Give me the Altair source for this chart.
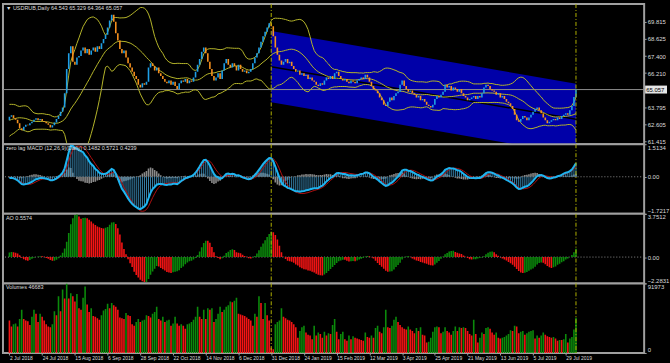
import altair as alt
import pandas as pd
import numpy as np

# ---------------- data ----------------
# daily closes before 2 Jul 2018, only used to warm up the indicators (not drawn)
warmup_closes = [61.60, 61.80, 62.00, 61.90, 62.20, 62.40, 62.30, 62.10, 61.90, 62.00,
                 62.30, 62.50, 62.40, 62.20, 62.00, 62.10, 62.30, 62.20, 62.00, 62.10,
                 62.40, 62.80, 63.10, 63.50, 63.80, 63.90, 63.60, 63.30, 63.10, 62.90,
                 62.80, 63.00, 63.10, 62.90]

closes = [
    63.15, 63.25, 63.05, 62.95, 62.70, 62.35, 62.20, 62.45, 62.60, 62.55,
    62.70, 62.80, 62.95, 63.05, 62.90, 63.00, 62.85, 62.80, 62.70, 62.60,
    62.40, 62.55, 62.75, 63.00, 63.20, 63.50, 63.80, 64.80, 66.50, 67.60,
    68.10, 67.00, 66.80, 67.30, 67.40, 67.80, 68.00, 67.60, 67.90, 67.50,
    67.80, 68.00, 67.70, 68.10, 67.90, 68.30, 68.60, 68.90, 69.40, 69.90,
    70.30, 69.80, 69.00, 68.50, 67.90, 67.60, 67.80, 67.30, 66.90, 66.60,
    66.30, 66.00, 65.80, 65.40, 65.20, 65.50, 65.40, 65.60, 66.60, 66.90,
    66.70, 66.40, 66.60, 66.20, 66.00, 65.80, 65.60, 65.50, 65.70, 65.40,
    65.60, 65.30, 65.10, 65.50, 65.70, 65.60, 65.80, 65.50, 65.70, 65.60,
    65.90, 66.30, 66.80, 67.20, 67.70, 68.00, 67.60, 67.00, 66.50, 66.00,
    65.70, 65.90, 66.20, 65.80, 66.40, 66.90, 67.20, 66.80, 66.60, 66.90,
    66.70, 66.40, 66.80, 66.50, 66.30, 66.40, 66.20, 66.30, 66.50, 66.90,
    67.30, 67.60, 68.00, 68.40, 68.80, 69.10, 69.40, 69.70, 69.50, 68.80,
    68.00, 67.50, 67.10, 66.80, 67.00, 67.20, 66.90, 67.00, 66.70, 66.50,
    66.30, 66.40, 66.10, 66.20, 66.00, 66.10, 65.80, 65.90, 65.70, 65.60,
    65.40, 65.30, 65.50, 65.40, 65.70, 65.90, 65.80, 66.00, 65.80, 66.20,
    66.30, 66.00, 65.80, 65.70, 65.80, 65.60, 65.50, 65.70, 65.60, 65.50,
    65.70, 65.80, 65.90, 65.80, 66.10, 65.90, 65.60, 65.30, 65.10, 65.00,
    64.80, 64.50, 64.30, 64.00, 63.90, 64.20, 64.50, 64.30, 64.60, 64.80,
    64.90, 65.40, 65.70, 65.30, 65.10, 64.90, 65.00, 64.80, 64.70, 64.50,
    64.60, 64.30, 64.40, 64.20, 64.00, 63.90, 63.80, 64.00, 64.40, 64.60,
    64.50, 64.70, 64.90, 65.40, 65.20, 65.30, 65.00, 65.20, 65.10, 64.90,
    65.10, 64.80, 64.60, 64.50, 64.30, 64.40, 64.50, 64.60, 64.40, 64.60,
    64.50, 64.80, 65.20, 65.40, 65.30, 65.10, 65.00, 64.90, 64.70, 64.80,
    64.50, 64.60, 64.40, 64.20, 64.10, 63.90, 63.70, 63.30, 62.90, 62.80,
    63.00, 63.20, 63.10, 62.90, 63.10, 63.30, 63.50, 63.70, 63.80, 63.60,
    63.40, 63.10, 62.90, 62.70, 62.80, 62.90, 63.00, 62.90, 63.10, 63.00,
    63.20, 63.30, 63.40, 63.30, 63.60, 63.90, 64.543, 65.057]

volumes = [
    43000, 35000, 38000, 39000, 35000, 45000, 57000, 45000, 43000, 42000,
    37000, 48000, 57000, 52000, 41000, 52000, 48000, 43000, 38000, 35000,
    34000, 38000, 55000, 50000, 75000, 55000, 84000, 72000, 91973, 72000,
    79000, 75000, 68000, 78000, 59000, 57000, 73000, 88000, 64000, 54000,
    59000, 49000, 48000, 46000, 44000, 50000, 56000, 58000, 65000, 59000,
    66000, 63000, 61000, 57000, 47000, 46000, 45000, 53000, 50000, 49000,
    38000, 36000, 41000, 45000, 41000, 43000, 44000, 50000, 49000, 47000,
    52000, 54000, 61000, 45000, 43000, 48000, 41000, 43000, 44000, 36000,
    39000, 48000, 39000, 36000, 38000, 36000, 32000, 38000, 39000, 41000,
    44000, 48000, 61000, 48000, 45000, 57000, 45000, 59000, 57000, 59000,
    41000, 45000, 52000, 61000, 54000, 57000, 61000, 63000, 68000, 67000,
    69000, 73000, 52000, 51000, 50000, 49000, 47000, 45000, 43000, 36000,
    52000, 48000, 75000, 66000, 45000, 66000, 50000, 43000, 7000, 5000,
    38000, 41000, 43000, 59000, 48000, 46000, 44000, 43000, 41000, 38000,
    34000, 20000, 29000, 34000, 36000, 27000, 24000, 23000, 18000, 36000,
    23000, 27000, 25000, 20000, 28000, 23000, 26000, 25000, 37000, 45000,
    28000, 18000, 25000, 28000, 18000, 16000, 23000, 18000, 22000, 20000,
    19000, 18000, 17000, 16000, 27000, 21000, 20000, 23000, 20000, 33000,
    36000, 28000, 26000, 34000, 57000, 34000, 33000, 36000, 44000, 48000,
    41000, 37000, 34000, 32000, 31000, 35000, 31000, 29000, 26000, 33000,
    29000, 34000, 24000, 23000, 14000, 15000, 20000, 28000, 34000, 35000,
    34000, 26000, 28000, 34000, 29000, 27000, 24000, 29000, 35000, 29000,
    34000, 33000, 34000, 33000, 29000, 25000, 23000, 44000, 25000, 14000,
    20000, 27000, 25000, 33000, 34000, 32000, 27000, 24000, 27000, 20000,
    19000, 20000, 21000, 23000, 25000, 30000, 29000, 36000, 35000, 26000,
    28000, 29000, 24000, 26000, 28000, 29000, 30000, 19000, 23000, 20000,
    23000, 27000, 24000, 22000, 21000, 20000, 21000, 19000, 16000, 17000,
    17000, 18000, 25000, 14000, 19000, 21000, 31000, 46683]

last_ohlc = [64.543, 65.329, 64.364, 65.057]
date_label_bars = [0, 16, 32, 48, 64, 80, 96, 112, 128, 144, 160, 176, 192, 208, 224, 240, 256, 272]
date_labels = ["2 Jul 2018", "24 Jul 2018", "15 Aug 2018", "6 Sep 2018", "28 Sep 2018",
               "22 Oct 2018", "14 Nov 2018", "6 Dec 2018", "31 Dec 2018", "24 Jan 2019",
               "15 Feb 2019", "12 Mar 2019", "3 Apr 2019", "25 Apr 2019", "21 May 2019",
               "13 Jun 2019", "5 Jul 2019", "29 Jul 2019"]
price_ticks = [69.815, 68.625, 67.400, 66.210, 63.795, 62.605, 61.415]
current_price = [65.057]
channel_bars = [128, 277]
channel_mid = [66.66, 62.97]
channel_half = [2.5, 2.5]
marker_bars = [128, 277]
price_range = [61.227, 71.048]
macd_range = [-1.7217, 1.5134]
ao_range = [-2.2831, 3.7512]
vol_range = [0, 91973]

title_main = "\u25bc USDRUB,Daily  64.543 65.329 64.364 65.057"
title_macd = "zero lag MACD (12,26,9)(Daily) 0.1482 0.5721 0.4239"
title_ao = "AO 0.5574"
title_vol = "Volumes 46683"

# ---------------- indicators ----------------
n = len(closes)
w = len(warmup_closes)
allc = pd.Series(warmup_closes + closes, dtype=float)
opens = allc.shift(1)
bb_mid = allc.rolling(20).mean()
bb_sd = allc.rolling(20).std(ddof=0)


def zlema(s, p):
    e1 = s.ewm(span=p, adjust=False).mean()
    e2 = e1.ewm(span=p, adjust=False).mean()
    return 2 * e1 - e2


macd = zlema(allc, 12) - zlema(allc, 26)
sig = zlema(macd, 9)
ao = allc.rolling(5).mean() - allc.rolling(34).mean()

BULL, BEAR = "#1e9fe6", "#f5901e"
GREEN, RED = "#0b8a0b", "#f31414"

df = pd.DataFrame({
    "bar": np.arange(n),
    "open": opens.iloc[w:].values,
    "close": closes,
    "bb_up": (bb_mid + 2 * bb_sd).iloc[w:].values,
    "bb_mid": bb_mid.iloc[w:].values,
    "bb_lo": (bb_mid - 2 * bb_sd).iloc[w:].values,
    "macd": macd.iloc[w:].values,
    "sig": sig.iloc[w:].values,
    "hist": (macd - sig).iloc[w:].values,
    "ao": ao.iloc[w:].values,
    "vol": volumes,
})
df.loc[n - 1, "open"] = last_ohlc[0]
df["zero"] = 0.0
df["ccol"] = np.where(df["close"] >= df["open"], BULL, BEAR)
ao_prev = ao.iloc[w - 1:-1].values
df["aocol"] = np.where(df["ao"].values > ao_prev, GREEN, RED)
vprev = np.array([volumes[0] + 1] + volumes[:-1])
df["vcol"] = np.where(np.array(volumes) > vprev, GREEN, RED)

chan_df = pd.DataFrame({"bar": channel_bars, "mid": channel_mid,
                        "lo": np.array(channel_mid) - np.array(channel_half),
                        "hi": np.array(channel_mid) + np.array(channel_half)})
mk_df = pd.DataFrame({"b": marker_bars})
one = pd.DataFrame({"k": [0]})
cur_df = pd.DataFrame({"p": current_price})
zero_df = pd.DataFrame({"z": [0.0]})

# ---------------- styling ----------------
W = 645
FONT = "Liberation Sans"
TXT = "#dcdcdc"
AXC = "#a0a0a0"
CHAN = "#0000a8"
BAND = "#b4b42a"
VLINE = "#b0b000"

xscale = alt.Scale(domain=[-0.72, 307.9], nice=False, zero=False)


def xq(field="bar", axis=None):
    return alt.X(f"{field}:Q", scale=xscale, axis=axis, title=None)


def yaxis(values, fmt=None, expr=None, flush=False):
    kw = dict(orient="right", values=values, labelColor=TXT, labelFont=FONT, labelFontSize=6,
              tickColor=AXC, tickSize=2, labelPadding=1, domain=False, grid=False,
              labelOverlap=False, labelFlush=flush, title=None)
    if fmt:
        kw["format"] = fmt
    if expr:
        kw["labelExpr"] = expr
    return alt.Axis(**kw)


def title_layer(text):
    return alt.Chart(one).mark_text(align="left", baseline="top", color=TXT, font=FONT,
                                    fontSize=5.5).encode(
        x=alt.value(3), y=alt.value(2), text=alt.value(text))


def markers(axis=None):
    return alt.Chart(mk_df).mark_rule(color=VLINE, strokeWidth=1, strokeDash=[4, 2, 1, 2]).encode(
        x=xq("b", axis))


# ---------------- main price panel ----------------
pscale = alt.Scale(domain=price_range, nice=False, zero=False)
paxis = yaxis(price_ticks, fmt=".3f")


def yp(field):
    return alt.Y(f"{field}:Q", scale=pscale, axis=paxis, title=None)


base = alt.Chart(df)
chan = alt.Chart(chan_df).mark_area(color=CHAN, opacity=1, clip=True).encode(
    x=xq(), y=yp("lo"), y2="hi:Q")
chan_mid = alt.Chart(chan_df).mark_line(color="#000000", strokeWidth=1.5, clip=True).encode(
    x=xq(), y=yp("mid"))
cur = alt.Chart(cur_df).mark_rule(color="#8c8c8c", strokeWidth=1).encode(y=yp("p"))
bands = [base.mark_line(color=BAND, strokeWidth=1, clip=True).encode(x=xq(), y=yp(f))
         for f in ["bb_up", "bb_mid", "bb_lo"]]
candles = base.mark_bar(size=1.6, clip=True).encode(
    x=xq(), y=yp("open"), y2="close:Q", color=alt.Color("ccol:N", scale=None))
box = alt.Chart(cur_df).mark_rect(color="#e6e6e6", yOffset=-4, y2Offset=4).encode(
    x=alt.value(W + 1), x2=alt.value(W + 23), y=yp("p"), y2="p:Q")
box_txt = alt.Chart(cur_df).mark_text(align="left", baseline="middle", color="#000000",
                                      font=FONT, fontSize=6).encode(
    x=alt.value(W + 2), y=yp("p"), text=alt.value("65.057"))

main = alt.layer(chan, chan_mid, cur, *bands, candles, markers(), box, box_txt,
                 title_layer(title_main)).properties(width=W, height=141)

# ---------------- zero lag MACD ----------------
mscale = alt.Scale(domain=macd_range, nice=False, zero=False)
maxis = yaxis([macd_range[0], 0, macd_range[1]], flush=True,
              expr="datum.value == 0 ? '0.00' : format(datum.value, '.4f')")


def ym(field):
    return alt.Y(f"{field}:Q", scale=mscale, axis=maxis, title=None)


m_zero = alt.Chart(zero_df).mark_rule(color="#8c8c8c", strokeDash=[1, 2]).encode(y=ym("z"))
m_hist = base.mark_bar(size=1.6, color="#8a8a8a", clip=True).encode(x=xq(), y=ym("hist"), y2="zero:Q")
m_str = base.mark_bar(size=0.9, color="#3c8dba", clip=True).encode(x=xq(), y=ym("macd"), y2="zero:Q")
m_sig = base.mark_line(color="#b01010", strokeWidth=1, clip=True).encode(x=xq(), y=ym("sig"))
m_line = base.mark_line(color="#1eb4f0", strokeWidth=2, clip=True).encode(x=xq(), y=ym("macd"))
macd_panel = alt.layer(m_zero, m_hist, m_str, m_sig, m_line, markers(),
                       title_layer(title_macd)).properties(width=W, height=70)

# ---------------- Awesome oscillator ----------------
ascale = alt.Scale(domain=ao_range, nice=False, zero=False)
aaxis = yaxis([ao_range[0], 0, ao_range[1]], flush=True,
              expr="datum.value == 0 ? '0.00' : format(datum.value, '.4f')")


def ya(field):
    return alt.Y(f"{field}:Q", scale=ascale, axis=aaxis, title=None)


a_zero = alt.Chart(zero_df).mark_rule(color="#8c8c8c", strokeDash=[1, 2]).encode(y=ya("z"))
a_bars = base.mark_bar(size=1.6, clip=True).encode(
    x=xq(), y=ya("ao"), y2="zero:Q", color=alt.Color("aocol:N", scale=None))
ao_panel = alt.layer(a_zero, a_bars, markers(), title_layer(title_ao)).properties(width=W, height=70)

# ---------------- Volumes ----------------
vscale = alt.Scale(domain=vol_range, nice=False, zero=False)
vaxis = yaxis(vol_range, fmt="d", flush=True)
lab_arr = "[" + ",".join("'" + s + "'" for s in date_labels) + "]"
bar_arr = "[" + ",".join(str(b) for b in date_label_bars) + "]"
xaxis = alt.Axis(values=date_label_bars, labelExpr=f"{lab_arr}[indexof({bar_arr}, datum.value)]",
                 labelAlign="left", labelBaseline="top", labelColor=TXT, labelFont=FONT,
                 labelFontSize=5, labelPadding=1, labelFlush=False, labelOverlap=False,
                 tickColor=AXC, tickSize=2, domain=False, grid=False, title=None)


def yv(field):
    return alt.Y(f"{field}:Q", scale=vscale, axis=vaxis, title=None)


v_bars = base.mark_bar(size=1.6, clip=True).encode(
    x=xq("bar", xaxis), y=yv("vol"), y2="zero:Q", color=alt.Color("vcol:N", scale=None))
vol_panel = alt.layer(v_bars, markers(xaxis), title_layer(title_vol)).properties(width=W, height=70)

chart = alt.vconcat(main, macd_panel, ao_panel, vol_panel, spacing=0, bounds="flush").resolve_scale(
    x="independent", y="independent").properties(
    padding={"left": 1, "top": 1, "right": 0, "bottom": 0}, background="#000000").configure_view(
    stroke=AXC, strokeWidth=2, fill="#000000")

chart.save("out.html", embed_options={"renderer": "svg", "actions": False})
